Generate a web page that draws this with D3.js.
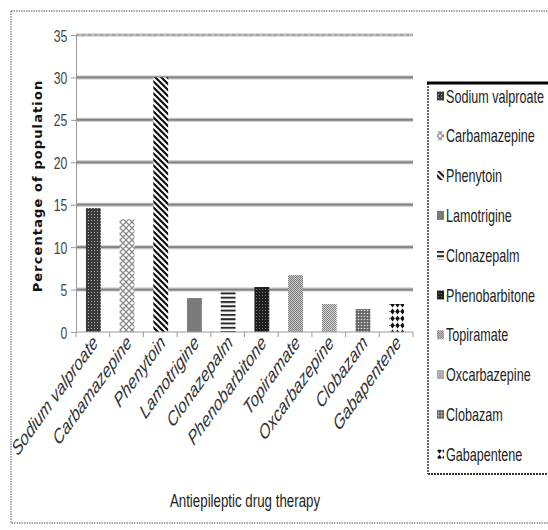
<!DOCTYPE html>
<html>
<head>
<meta charset="utf-8">
<script src="https://cdnjs.cloudflare.com/ajax/libs/d3/7.8.5/d3.min.js"></script>
<style>
  html, body { margin: 0; padding: 0; background: #fff; }
  svg { display: block; }
  .narrow { font-family: "Liberation Sans", Arial, sans-serif; }
</style>
</head>
<body>
<script>
// Antiepileptic drugs and the share of the population on each
const categories = ["Sodium valproate", "Carbamazepine", "Phenytoin", "Lamotrigine", "Clonazepalm",
                    "Phenobarbitone", "Topiramate", "Oxcarbazepine", "Clobazam", "Gabapentene"];
const percentages = [14.6, 13.3, 30, 4, 4.7, 5.3, 6.7, 3.3, 2.7, 3.3];
const yTicks = [0, 5, 10, 15, 20, 25, 30, 35];
const yTitle = "Percentage of population";
const xTitle = "Antiepileptic drug therapy";

const W = 548, H = 530;
const margin = { left: 76, right: 135, top: 35, bottom: 198 };
const SQ = 0.72; // horizontal squeeze for the condensed text face

const svg = d3.select("body").append("svg").attr("width", W).attr("height", H);
const defs = svg.append("defs");

// Fill patterns, one per drug
function pat(id, w, h, draw) {
  const p = defs.append("pattern").attr("id", id).attr("patternUnits", "userSpaceOnUse")
    .attr("width", w).attr("height", h);
  draw(p);
}
pat("p0", 3, 3, p => {
  p.append("rect").attr("width", 3).attr("height", 3).attr("fill", "#3a3a3a");
  p.append("rect").attr("x", 1).attr("y", 1).attr("width", 1).attr("height", 1).attr("fill", "#b0b0b0");
});
pat("p1", 6, 6, p => {
  p.append("rect").attr("width", 6).attr("height", 6).attr("fill", "#fff");
  p.append("path").attr("d", "M0,0L6,6M6,0L0,6M-3,3L3,9M3,-3L9,3M-3,3L3,-3M3,9L9,3")
    .attr("stroke", "#8a8a8a").attr("stroke-width", 1.3);
});
pat("p2", 6, 6, p => {
  p.append("rect").attr("width", 6).attr("height", 6).attr("fill", "#fff");
  p.append("path").attr("d", "M0,0L6,6M-3,3L3,9M3,-3L9,3")
    .attr("stroke", "#111").attr("stroke-width", 2.2);
});
pat("p3", 4, 4, p => {
  p.append("rect").attr("width", 4).attr("height", 4).attr("fill", "#7a7a7a");
});
pat("p4", 4, 4.3, p => {
  p.append("rect").attr("width", 4).attr("height", 4.3).attr("fill", "#fff");
  p.append("rect").attr("width", 4).attr("height", 2).attr("fill", "#2a2a2a");
});
pat("p5", 3, 3, p => {
  p.append("rect").attr("width", 3).attr("height", 3).attr("fill", "#1e1e1e");
  p.append("rect").attr("x", 1).attr("y", 1).attr("width", 1).attr("height", 1).attr("fill", "#7a7a7a");
});
pat("p6", 2, 2, p => {
  p.append("rect").attr("width", 2).attr("height", 2).attr("fill", "#cfcfcf");
  p.append("rect").attr("width", 1).attr("height", 1).attr("fill", "#777");
  p.append("rect").attr("x", 1).attr("y", 1).attr("width", 1).attr("height", 1).attr("fill", "#777");
});
pat("p7", 4, 4, p => {
  p.append("rect").attr("width", 4).attr("height", 4).attr("fill", "#dcdcdc");
  [[0, 0], [1, 1], [2, 0], [3, 1], [0, 2], [1, 3], [2, 2], [3, 3]].forEach(([a, b]) =>
    p.append("rect").attr("x", a).attr("y", b).attr("width", 1).attr("height", 1).attr("fill", "#7e7e7e"));
});
pat("p8", 3, 3, p => {
  p.append("rect").attr("width", 3).attr("height", 3).attr("fill", "#666");
  p.append("circle").attr("cx", 1.5).attr("cy", 1.5).attr("r", 0.8).attr("fill", "#e0e0e0");
});
pat("p9", 5, 7, p => {
  p.append("rect").attr("width", 5).attr("height", 7).attr("fill", "#fff");
  p.append("path").attr("d", "M2.5,0.6L4.8,3.5L2.5,6.4L0.2,3.5Z").attr("fill", "#111");
});
const fills = categories.map((c, i) => `url(#p${i})`);

// Outer frame
svg.append("rect").attr("x", 11).attr("y", 11).attr("width", 560).attr("height", 512)
  .attr("fill", "none").attr("stroke", "#555").attr("stroke-width", 1).attr("stroke-dasharray", "1.5,1");

const x = d3.scaleBand().domain(categories).range([margin.left, W - margin.right]).padding(0);
const y = d3.scaleLinear().domain([0, 35]).range([H - margin.bottom, margin.top]);

// Gridlines
const grid = svg.append("g");
yTicks.filter(t => t > 0 && t < 35).forEach(t => {
  grid.append("line").attr("x1", margin.left).attr("x2", W - margin.right)
    .attr("y1", y(t)).attr("y2", y(t)).attr("stroke", "#c2c2c2").attr("stroke-width", 4);
  grid.append("line").attr("x1", margin.left).attr("x2", W - margin.right)
    .attr("y1", y(t)).attr("y2", y(t)).attr("stroke", "#808080").attr("stroke-width", 1.8);
});
grid.append("line").attr("x1", margin.left).attr("x2", W - margin.right)
  .attr("y1", y(35)).attr("y2", y(35)).attr("stroke", "#bcbcbc").attr("stroke-width", 3);
grid.append("line").attr("x1", margin.left).attr("x2", W - margin.right)
  .attr("y1", y(35)).attr("y2", y(35)).attr("stroke", "#8a8a8a").attr("stroke-width", 1.2)
  .attr("stroke-dasharray", "3,3");

// Bars
const barW = x.bandwidth() * 0.44;
svg.append("g").selectAll("rect").data(categories).join("rect")
  .attr("x", d => x(d) + x.bandwidth() / 2 - barW / 2 + 0.5)
  .attr("width", barW)
  .attr("y", (d, i) => y(percentages[i]))
  .attr("height", (d, i) => y(0) - y(percentages[i]))
  .attr("fill", (d, i) => fills[i]);

// Y axis
const yAxis = svg.append("g").attr("transform", `translate(${margin.left},0)`)
  .call(d3.axisLeft(y).tickValues(yTicks).tickSize(5).tickPadding(0));
yAxis.select(".domain").attr("stroke", "#9a9a9a");
yAxis.selectAll(".tick line").attr("stroke", "#9a9a9a");
yAxis.selectAll("text").attr("class", "narrow").attr("font-size", 17).attr("fill", "#444")
  .attr("x", -12).attr("transform", `scale(${SQ},1)`).attr("dy", "0.36em");

// X axis with ticks between categories
const xAxisG = svg.append("g").attr("transform", `translate(0,${y(0)})`);
xAxisG.append("line").attr("x1", margin.left).attr("x2", W - margin.right)
  .attr("stroke", "#9a9a9a");
xAxisG.selectAll("line.tk").data(d3.range(categories.length + 1)).join("line").attr("class", "tk")
  .attr("x1", i => margin.left + i * x.step()).attr("x2", i => margin.left + i * x.step())
  .attr("y1", 0).attr("y2", 5).attr("stroke", "#9a9a9a");
xAxisG.selectAll("text").data(categories).join("text")
  .attr("class", "narrow")
  .attr("transform", d => `translate(${x(d) + x.bandwidth() / 2 + 6},12) scale(${SQ},1) rotate(-45)`)
  .attr("text-anchor", "end")
  .attr("font-size", 20.5).attr("font-style", "italic").attr("fill", "#333")
  .text(d => d);

// Axis titles
svg.append("text")
  .attr("transform", `translate(42,186) rotate(-90)`)
  .attr("text-anchor", "middle")
  .attr("font-family", "DejaVu Sans, sans-serif").attr("font-weight", "bold")
  .attr("font-size", 13).attr("letter-spacing", 1.1).attr("fill", "#111")
  .text(yTitle);
svg.append("text").attr("class", "narrow")
  .attr("transform", `translate(245,507) scale(${SQ},1)`).attr("text-anchor", "middle")
  .attr("font-size", 18.5).attr("fill", "#222")
  .text(xTitle);

// Legend
const lg = svg.append("g");
const lx = 428, ly = 83, lb = 474;
lg.append("rect").attr("x", lx).attr("y", ly).attr("width", 130).attr("height", lb - ly).attr("fill", "#fff");
lg.append("line").attr("x1", lx).attr("x2", lx).attr("y1", ly).attr("y2", lb)
  .attr("stroke", "#333").attr("stroke-width", 1.5).attr("stroke-dasharray", "2,1");
lg.append("line").attr("x1", lx).attr("x2", W).attr("y1", lb).attr("y2", lb)
  .attr("stroke", "#333").attr("stroke-width", 2).attr("stroke-dasharray", "2,1");
lg.append("line").attr("x1", lx - 1).attr("x2", W).attr("y1", ly).attr("y2", ly)
  .attr("stroke", "#000").attr("stroke-width", 3);
const items = lg.selectAll("g.item").data(categories).join("g").attr("class", "item")
  .attr("transform", (d, i) => `translate(${lx + 9},${96 + i * 39.8})`);
items.append("rect").attr("x", 0).attr("y", -4.5).attr("width", 7).attr("height", 9)
  .attr("fill", (d, i) => fills[i]);
items.append("text").attr("class", "narrow")
  .attr("transform", `translate(9,6.5) scale(${SQ},1)`)
  .attr("font-size", 17.5).attr("fill", "#222").text(d => d);
</script>
</body>
</html>
